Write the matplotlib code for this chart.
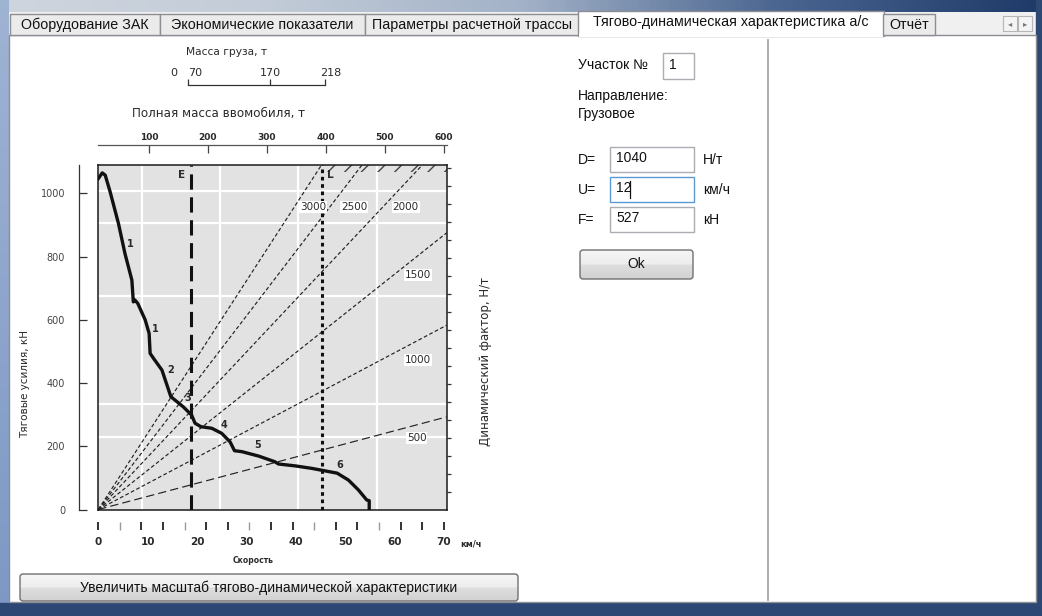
import matplotlib
matplotlib.use('Agg')
import matplotlib.pyplot as plt
from matplotlib.patches import Rectangle, FancyBboxPatch
from matplotlib.colors import LinearSegmentedColormap
import numpy as np

# traction curve: speed (km/h) and tractive force (kN)
speed_kmh = [0, 0.8, 1.4, 2.4, 4.1, 5.4, 6.8, 7.1, 7.4, 8.0, 9.5, 10.3, 10.5, 11.2, 12.9,
             14.7, 17.2, 18.9, 19.6, 20.8, 23.0, 25.0, 26.7, 27.6, 29.1, 32.5, 35.8, 36.5,
             39.9, 43.3, 46.7, 48.4, 50.7, 52.7, 54.4, 54.9, 54.9]
force_kn = [1047, 1065, 1058, 1005, 904, 810, 726, 657, 663, 652, 600, 557, 494, 478, 441,
            357, 325, 299, 273, 262, 257, 241, 214, 186, 183, 169, 151, 144,
            138, 130, 120, 115, 93, 62, 30, 28, 0]

# gear / segment numbers along the curve
seg_labels = ["1", "1", "2", "3", "4", "5", "6"]
seg_kmh = [6.4, 11.6, 14.7, 18.1, 25.4, 32.3, 49.0]
seg_kn = [841, 572, 442, 354, 267, 204, 141]

# dynamic factor rays (N/t) and their slopes (kN per km/h)
d_values = [500, 1000, 1500, 2000, 2500, 3000]
d_slopes = [4.15, 8.26, 12.4, 16.6, 20.4, 24.1]
d_label_kmh = [64.5, 64.8, 64.8, 62.3, 51.8, 43.5]
d_label_kn = [226, 473, 742, 958, 958, 958]

# empty (E) and loaded (L) speed markers
e_kmh = 18.7
l_kmh = 45.3

force_ticks = [0, 200, 400, 600, 800, 1000]
speed_labels = [0, 10, 20, 30, 40, 50, 60, 70]
mass_ticks = [100, 200, 300, 400, 500, 600]
cargo_labels = ["0", "70", "170", "218"]

tab_labels = ["Оборудование ЗАК", "Экономические показатели", "Параметры расчетной трассы",
              "Тягово-динамическая характеристика а/с", "Отчёт"]

GUI_FONT = ['Liberation Sans', 'DejaVu Sans']
INK = '#2a2a2a'

fig = plt.figure(figsize=(10.42, 6.16), dpi=100)

# ---------- window / GUI background (pixel coordinates) ----------
bg = fig.add_axes([0, 0, 1, 1])
bg.set_zorder(-1)
bg.add_patch(Rectangle((0, 0), 1042, 616, color='#f0f0f0', zorder=0))
top_cmap = LinearSegmentedColormap.from_list(
    'frame', ['#cfd5de', '#c3ccd8', '#a3b2c8', '#4a6590', '#1f3a68'])
bg.imshow(np.linspace(0, 1, 300)[None, :], cmap=top_cmap, extent=(0, 1042, 12, 0),
          aspect='auto', zorder=1)
left_cmap = LinearSegmentedColormap.from_list('left', ['#9fb3d3', '#7d98c4'])
bg.imshow(np.linspace(0, 1, 100)[:, None], cmap=left_cmap, extent=(0, 9, 616, 0),
          aspect='auto', zorder=1)
bg.add_patch(Rectangle((1036, 0), 6, 616, color='#2d4873', zorder=1))
bg.add_patch(Rectangle((0, 603), 1042, 13, color='#2c4774', zorder=1))

# tab page
bg.add_patch(Rectangle((9, 35), 1027, 567, fc='white', ec='#8c8e94', lw=1, zorder=2))

tab_edges = [10, 160, 365, 579, 883, 935]
for i, name in enumerate(tab_labels):
    x0, x1 = tab_edges[i], tab_edges[i + 1]
    if i == 3:
        bg.add_patch(Rectangle((x0 - 1, 11), x1 - x0 + 2, 25, fc='white', ec='#8c8e94', lw=1,
                               zorder=3))
        bg.add_patch(Rectangle((x0, 33), x1 - x0, 4, fc='white', ec='none', zorder=3))
        bg.text((x0 + x1) / 2, 22, name, ha='center', va='center', fontsize=10.3,
                family=GUI_FONT, color='#111111', zorder=5)
    else:
        bg.add_patch(Rectangle((x0, 14), x1 - x0, 21, fc='#ebebeb', ec='#8c8e94', lw=1,
                               zorder=3))
        bg.text((x0 + x1) / 2, 25, name, ha='center', va='center', fontsize=10.3,
                family=GUI_FONT, color='#111111', zorder=5)

# scroll arrows of the tab strip
for x0, glyph in [(1003, '◂'), (1018, '▸')]:
    bg.add_patch(Rectangle((x0, 16), 14, 15, fc='#f4f4f4', ec='#b5b5b5', lw=0.8, zorder=3))
    bg.text(x0 + 7, 23.5, glyph, ha='center', va='center', fontsize=6, color='#777777',
            zorder=5)

# separator of the right panel
bg.plot([768, 768], [40, 600], color='#a6a6a6', lw=1.3, zorder=3)


def text_box(x0, y0, w, h, value, edge='#abadb3'):
    bg.add_patch(Rectangle((x0, y0), w, h, fc='white', ec=edge, lw=1, zorder=3))
    bg.text(x0 + 6, y0 + h / 2 - 1, value, ha='left', va='center', fontsize=10,
            family=GUI_FONT, color='#111111', zorder=5)


def button(x0, y0, w, h, label):
    patch = FancyBboxPatch((x0, y0), w, h, boxstyle='round,pad=0,rounding_size=3',
                           fc='none', ec='#707070', lw=1, zorder=4)
    bg.add_patch(patch)
    grad = np.concatenate([np.linspace(0.96, 0.93, 10), np.linspace(0.87, 0.82, 10)])
    im = bg.imshow(grad[:, None], cmap='gray', vmin=0, vmax=1, extent=(x0, x0 + w, y0 + h, y0),
                   aspect='auto', zorder=3)
    im.set_clip_path(patch)
    bg.text(x0 + w / 2, y0 + h / 2, label, ha='center', va='center', fontsize=10,
            family=GUI_FONT, color='#111111', zorder=5)


def label(x, y, s):
    bg.text(x, y, s, ha='left', va='center', fontsize=10, family=GUI_FONT, color='#111111',
            zorder=5)


label(578, 65, "Участок №")
text_box(663, 53, 31, 26, "1")
label(578, 96, "Направление:")
label(578, 114, "Грузовое")

rows = [("D=", "1040", "Н/т", 147), ("U=", "12", "км/ч", 177), ("F=", "527", "кН", 207)]
for lab, val, unit, y0 in rows:
    label(578, y0 + 13, lab)
    text_box(610, y0, 84, 25, val, edge='#5b9bd5' if lab == "U=" else '#abadb3')
    label(703, y0 + 13, unit)
bg.plot([630, 630], [181, 198], color='#111111', lw=0.9, zorder=5)

button(580, 250, 113, 29, "Ok")
button(20, 574, 498, 27, "Увеличить масштаб тягово-динамической характеристики")

bg.set_xlim(0, 1042)
bg.set_ylim(616, 0)
bg.axis('off')

# ---------- traction chart ----------
ax = fig.add_axes([98.3 / 1042, 1 - 509.5 / 616, 348.4 / 1042, 344.5 / 616])
ax.set_facecolor('#e2e2e2')
ax.set_xlim(0, 70.6)
ax.set_ylim(0, 1090)
for s in ax.spines.values():
    s.set_color('#1a1a1a')
    s.set_linewidth(1.1)

# irregular white grid of the scanned nomogram
ax.set_xticks([8.8, 24.7, 40.5, 56.5])
ax.set_yticks([228, 335, 677, 905, 1009])
ax.tick_params(length=0, labelbottom=False, labelleft=False)
ax.grid(True, color='white', lw=1.6)
ax.set_axisbelow(True)

for d, k in zip(d_values, d_slopes):
    dash = (7, 3.5) if d == 500 else (3.2, 2)
    ax.axline((0, 0), slope=k, color='#222222', lw=0.85, dashes=dash, zorder=2)

ax.fill_between([l_kmh + 0.4, 70.6], 1068, 1090, facecolor='none', edgecolor='#444444',
                hatch='//', lw=0, zorder=2)

ax.axvline(e_kmh, color='#111111', lw=2.2, dashes=(5, 2.5), zorder=3)
ax.axvline(l_kmh, color='#111111', lw=2.2, dashes=(1.2, 1.2), zorder=3)
ax.text(e_kmh - 1.8, 1058, "E", ha='center', va='center', fontsize=7.5, weight='bold', color=INK)
ax.text(l_kmh + 1.8, 1058, "L", ha='center', va='center', fontsize=7.5, weight='bold', color=INK)

ax.plot(speed_kmh, force_kn, color='#111111', lw=2.4, solid_joinstyle='round', zorder=4)

for t, x, y in zip(seg_labels, seg_kmh, seg_kn):
    ax.text(x, y, t, ha='center', va='center', fontsize=7, weight='bold', color=INK, zorder=5)

for d, x, y in zip(d_values, d_label_kmh, d_label_kn):
    ax.text(x, y, str(d), ha='center', va='center', fontsize=7.5, color=INK, zorder=5,
            bbox=dict(fc='white', ec='none', pad=0.6))

# right edge ticks of the dynamic factor scale
ax_r = ax.secondary_yaxis('right')
ax_r.set_yticks(np.linspace(55, 1079, 19))
ax_r.tick_params(direction='out', length=3, width=0.9, color='#333333', labelright=False)
ax_r.spines['right'].set_visible(False)

# left force axis set apart from the frame
ax_l = ax.secondary_yaxis(-0.0554)
ax_l.set_yticks(force_ticks)
ax_l.tick_params(direction='in', length=5.8, width=0.9, color='#333333', labelsize=7,
                 labelcolor='#444444', pad=10)
ax_l.spines['left'].set_color('#333333')
ax_l.spines['left'].set_linewidth(0.9)

# bottom speed scale: labels, dark tick marks and light tick marks on separate axes
tick_pos = np.linspace(0, 70, 17)
light_idx = [1, 4, 7, 10, 13]
ax_b = ax.secondary_xaxis(-0.0363)
ax_b.set_xticks(speed_labels, [str(v) for v in speed_labels])
ax_b.tick_params(length=0, pad=11, labelsize=7.5, labelcolor=INK)
for lbl in ax_b.get_xticklabels():
    lbl.set_fontweight('bold')
ax_b.spines['bottom'].set_visible(False)

for idx_keep, col, w in [(False, '#222222', 1.3), (True, '#9a9a9a', 1.0)]:
    ax_t = ax.secondary_xaxis(-0.0363)
    ax_t.set_xticks([p for i, p in enumerate(tick_pos) if (i in light_idx) == idx_keep], [])
    ax_t.tick_params(direction='out', length=5.8, width=w, color=col)
    ax_t.spines['bottom'].set_visible(False)

ax.text(75.5, -108, "км/ч", ha='center', va='center', fontsize=6, weight='bold', color=INK,
        clip_on=False)
ax.text(31.4, -160, "Скорость", ha='center', va='center', fontsize=5.5, weight='bold',
        color=INK, clip_on=False)

# top scale: gross vehicle mass
ax_m = ax.secondary_xaxis(1.058, functions=(lambda v: 14.24 + 8.369 * v,
                                            lambda m: (m - 14.24) / 8.369))
ax_m.set_xticks(mass_ticks)
ax_m.tick_params(direction='in', length=5.8, width=0.9, color='#444444', pad=2,
                 labelsize=6.5, labelcolor=INK)
for lbl in ax_m.get_xticklabels():
    lbl.set_fontweight('bold')
ax_m.spines['top'].set_color('#555555')
ax_m.spines['top'].set_linewidth(0.9)

# cargo mass bracket: labels on one axis, tick marks on another
ax_c = ax.secondary_xaxis(1.232)
ax_c.set_xticks([15.2, 19.6, 34.8, 47.2], cargo_labels)
ax_c.tick_params(length=0, pad=5, labelsize=8, labelcolor=INK)
ax_c.spines['top'].set_visible(False)

ax_c2 = ax.secondary_xaxis(1.232)
ax_c2.set_xticks([18.2, 34.8, 46.0], [])
ax_c2.tick_params(direction='out', length=4.5, width=0.9, color='#333333')
ax_c2.spines['top'].set_bounds(18.2, 46.0)
ax_c2.spines['top'].set_color('#333333')
ax_c2.spines['top'].set_linewidth(0.9)

fig.text(227 / 1042, 1 - 52 / 616, "Масса груза, т", ha='center', va='center', fontsize=7.7,
         color=INK)
fig.text(218 / 1042, 1 - 114 / 616, "Полная масса ввомобиля, т", ha='center', va='center',
         fontsize=8.6, color=INK)
fig.text(25 / 1042, 1 - 384 / 616, "Тяговые усилия, кН", ha='center', va='center',
         fontsize=7.5, rotation=90, color=INK)
fig.text(485 / 1042, 1 - 362 / 616, "Динамический фактор, Н/т", ha='center', va='center',
         fontsize=8.5, rotation=90, color=INK)

fig.savefig('out.png', dpi=100)
